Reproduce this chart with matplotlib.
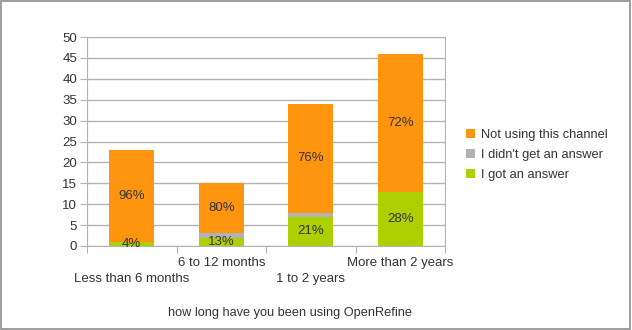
import matplotlib.pyplot as plt
from matplotlib.patches import Rectangle

plt.rcParams['font.family'] = ['Liberation Sans', 'DejaVu Sans']

# Survey counts per usage period
periods = ["Less than 6 months", "6 to 12 months", "1 to 2 years", "More than 2 years"]
got_answer = [1, 2, 7, 13]
no_answer = [0, 1, 1, 0]
not_using = [22, 12, 26, 33]
got_pct = ["4%", "13%", "21%", "28%"]
not_using_pct = ["96%", "80%", "76%", "72%"]

green = "#aecf00"
grey = "#b2b2b2"
orange = "#ff950e"
text_col = "#333333"
line_col = "#b3b3b3"

fig = plt.figure(figsize=(6.32, 3.30), dpi=100)
ax = fig.add_axes([87 / 632, 84 / 330, 358 / 632, 209 / 330])

x = list(range(len(periods)))
bottom2 = [g + n for g, n in zip(got_answer, no_answer)]
b1 = ax.bar(x, got_answer, width=0.5, color=green, label="I got an answer", zorder=3)
b2 = ax.bar(x, no_answer, width=0.5, bottom=got_answer, color=grey,
            label="I didn't get an answer", zorder=3)
b3 = ax.bar(x, not_using, width=0.5, bottom=bottom2, color=orange,
            label="Not using this channel", zorder=3)

for i in x:
    ax.text(i, got_answer[i] / 2, got_pct[i], ha="center", va="center",
            fontsize=9.5, color=text_col, zorder=4)
    ax.text(i, bottom2[i] + not_using[i] / 2, not_using_pct[i], ha="center",
            va="center", fontsize=9.5, color=text_col, zorder=4)

ax.set_xlim(-0.5, 3.5)
ax.set_ylim(0, 50)
ax.set_yticks(range(0, 51, 5))
ax.yaxis.grid(True, color=line_col, linewidth=1, zorder=0)

# tick marks between categories, labels staggered on two rows
ax.set_xticks([-0.5, 0.5, 1.5, 2.5, 3.5])
ax.set_xticklabels([])
ax.tick_params(axis="x", length=5, color=line_col)
xtr = ax.get_xaxis_transform()
for i, p in enumerate(periods):
    row_y = -0.158 if i % 2 == 0 else -0.081
    ax.text(i, row_y, p, transform=xtr, ha="center", va="center",
            fontsize=9.5, color=text_col)

ax.tick_params(axis="y", length=5, color=line_col, labelsize=9.5,
               labelcolor=text_col, pad=2)
for s in ax.spines.values():
    s.set_color(line_col)

fig.text(289.5 / 632, 1 - 313 / 330, "how long have you been using OpenRefine",
         ha="center", va="center", fontsize=9.2, color=text_col)

handles = [b3, b2, b1]
ax.legend(handles=handles, labels=[h.get_label() for h in handles],
          loc="center left", bbox_to_anchor=(1.038, 0.435), frameon=False,
          fontsize=9.3, labelcolor=text_col, handlelength=0.7, handleheight=0.7,
          handletextpad=0.45, labelspacing=0.62, borderaxespad=0.2)

fig.patches.append(Rectangle((0.001, 0.003), 0.996, 0.994, transform=fig.transFigure,
                             fill=False, edgecolor="#8c8c8c", linewidth=1.2))

fig.savefig("out.png", dpi=100)
